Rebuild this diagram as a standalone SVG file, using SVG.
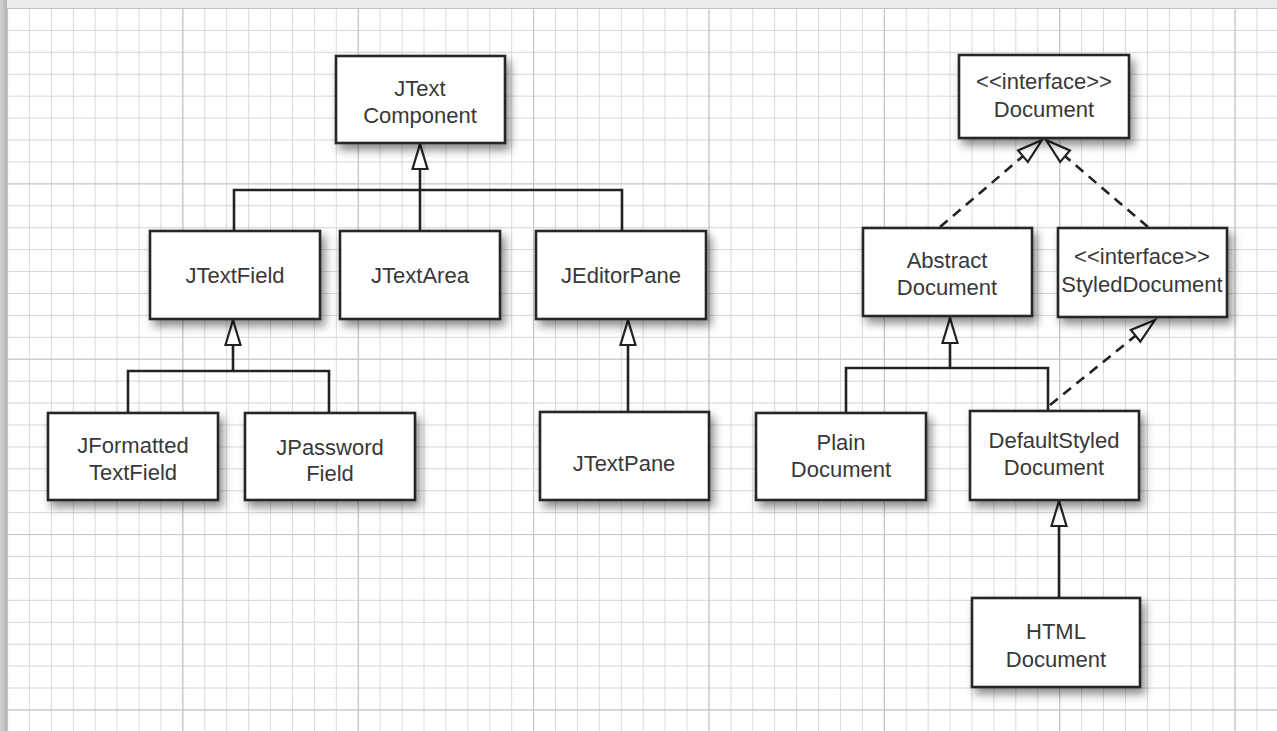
<svg xmlns="http://www.w3.org/2000/svg" width="1277" height="731" viewBox="0 0 1277 731">
  <defs>
    <pattern id="minor" patternUnits="userSpaceOnUse" x="7" y="8" width="21.92" height="21.92">
      <path d="M0,0 H21.92 M0,0 V21.92" fill="none" stroke="#d6d6d6" stroke-width="1.8"/>
    </pattern>
    <pattern id="major" patternUnits="userSpaceOnUse" x="7" y="8" width="175.36" height="175.36">
      <path d="M0,0 H175.36 M0,0 V175.36" fill="none" stroke="#c4c4c4" stroke-width="2.2"/>
    </pattern>
    <linearGradient id="leftEdge" x1="0" y1="0" x2="1" y2="0">
      <stop offset="0" stop-color="#d4d4d4"/>
      <stop offset="1" stop-color="#b4b4b4"/>
    </linearGradient>
    <filter id="shadow" x="-20%" y="-20%" width="150%" height="160%">
      <feDropShadow dx="4" dy="6" stdDeviation="5" flood-color="#000" flood-opacity="0.45"/>
    </filter>
    <marker id="tri" markerUnits="userSpaceOnUse" markerWidth="32" markerHeight="22" viewBox="-3 -3 32 22" refX="26" refY="8" orient="auto" overflow="visible">
      <path d="M26,8 L1,0.5 L1,15.5 Z" fill="#fff" stroke="#222" stroke-width="2.2" stroke-dasharray="none" stroke-linejoin="miter"/>
    </marker>
    <style>
      .box { fill: #fff; stroke: #262626; stroke-width: 2.6; filter: url(#shadow); }
      .lbl { font-family: "Liberation Sans", Arial, Helvetica, sans-serif; font-size: 22px; fill: #383838; text-anchor: middle; }
      .line { fill: none; stroke: #222; stroke-width: 2.6; }
      .dash { fill: none; stroke: #222; stroke-width: 2.6; stroke-dasharray: 10 7; }
    </style>
  </defs>

  <!-- paper and grid -->
  <rect x="0" y="0" width="1277" height="731" fill="#fff"/>
  <rect x="7" y="8" width="1270" height="723" fill="url(#minor)"/>
  <rect x="7" y="8" width="1270" height="723" fill="url(#major)"/>
  <rect x="0" y="0" width="1277" height="8" fill="#ececec"/>
  <rect x="0" y="0" width="7" height="731" fill="url(#leftEdge)"/>

  <!-- connectors -->
  <g id="connectors">
    <path class="line" d="M420,230 L420,144" marker-end="url(#tri)"/>
    <path class="line" d="M234,231 L234,190 L622,190 L622,231"/>
    <path class="line" d="M233,371 L233,320" marker-end="url(#tri)"/>
    <path class="line" d="M128,413 L128,371 L329,371 L329,413"/>
    <path class="line" d="M628,412 L628,320" marker-end="url(#tri)"/>
    <path class="dash" d="M940,227 L1042,140" marker-end="url(#tri)"/>
    <path class="dash" d="M1148,227 L1046,140" marker-end="url(#tri)"/>
    <path class="line" d="M950,368 L950,318" marker-end="url(#tri)"/>
    <path class="line" d="M846,413 L846,368 L1048,368 L1048,411"/>
    <path class="dash" d="M1050,405 L1155,320" marker-end="url(#tri)"/>
    <path class="line" d="M1059,598 L1059,501" marker-end="url(#tri)"/>
  </g>

  <g id="JTextComponent">
    <rect class="box" x="336" y="56" width="169" height="87"/>
    <text class="lbl" x="420" y="96">JText</text>
    <text class="lbl" x="420" y="123">Component</text>
  </g>
  <g id="JTextField">
    <rect class="box" x="150" y="231" width="170" height="88"/>
    <text class="lbl" x="235" y="283">JTextField</text>
  </g>
  <g id="JTextArea">
    <rect class="box" x="340" y="231" width="160" height="88"/>
    <text class="lbl" x="420" y="283">JTextArea</text>
  </g>
  <g id="JEditorPane">
    <rect class="box" x="536" y="231" width="170" height="88"/>
    <text class="lbl" x="621" y="283">JEditorPane</text>
  </g>
  <g id="JFormattedTextField">
    <rect class="box" x="48" y="413" width="170" height="87"/>
    <text class="lbl" x="133" y="453">JFormatted</text>
    <text class="lbl" x="133" y="480">TextField</text>
  </g>
  <g id="JPasswordField">
    <rect class="box" x="245" y="413" width="170" height="87"/>
    <text class="lbl" x="330" y="455">JPassword</text>
    <text class="lbl" x="330" y="481">Field</text>
  </g>
  <g id="JTextPane">
    <rect class="box" x="540" y="412" width="169" height="88"/>
    <text class="lbl" x="624" y="471">JTextPane</text>
  </g>

  <g id="Document">
    <rect class="box" x="959" y="55" width="170" height="83"/>
    <text class="lbl" x="1044" y="89">&lt;&lt;interface&gt;&gt;</text>
    <text class="lbl" x="1044" y="117">Document</text>
  </g>
  <g id="AbstractDocument">
    <rect class="box" x="863" y="228" width="169" height="88"/>
    <text class="lbl" x="947" y="268">Abstract</text>
    <text class="lbl" x="947" y="295">Document</text>
  </g>
  <g id="StyledDocument">
    <rect class="box" x="1058" y="228" width="169" height="89"/>
    <text class="lbl" x="1142" y="264">&lt;&lt;interface&gt;&gt;</text>
    <text class="lbl" x="1142" y="292">StyledDocument</text>
  </g>
  <g id="PlainDocument">
    <rect class="box" x="756" y="413" width="170" height="87"/>
    <text class="lbl" x="841" y="450">Plain</text>
    <text class="lbl" x="841" y="477">Document</text>
  </g>
  <g id="DefaultStyledDocument">
    <rect class="box" x="970" y="411" width="169" height="89"/>
    <text class="lbl" x="1054" y="448">DefaultStyled</text>
    <text class="lbl" x="1054" y="475">Document</text>
  </g>
  <g id="HTMLDocument">
    <rect class="box" x="972" y="598" width="168" height="89"/>
    <text class="lbl" x="1056" y="639">HTML</text>
    <text class="lbl" x="1056" y="667">Document</text>
  </g>
</svg>
